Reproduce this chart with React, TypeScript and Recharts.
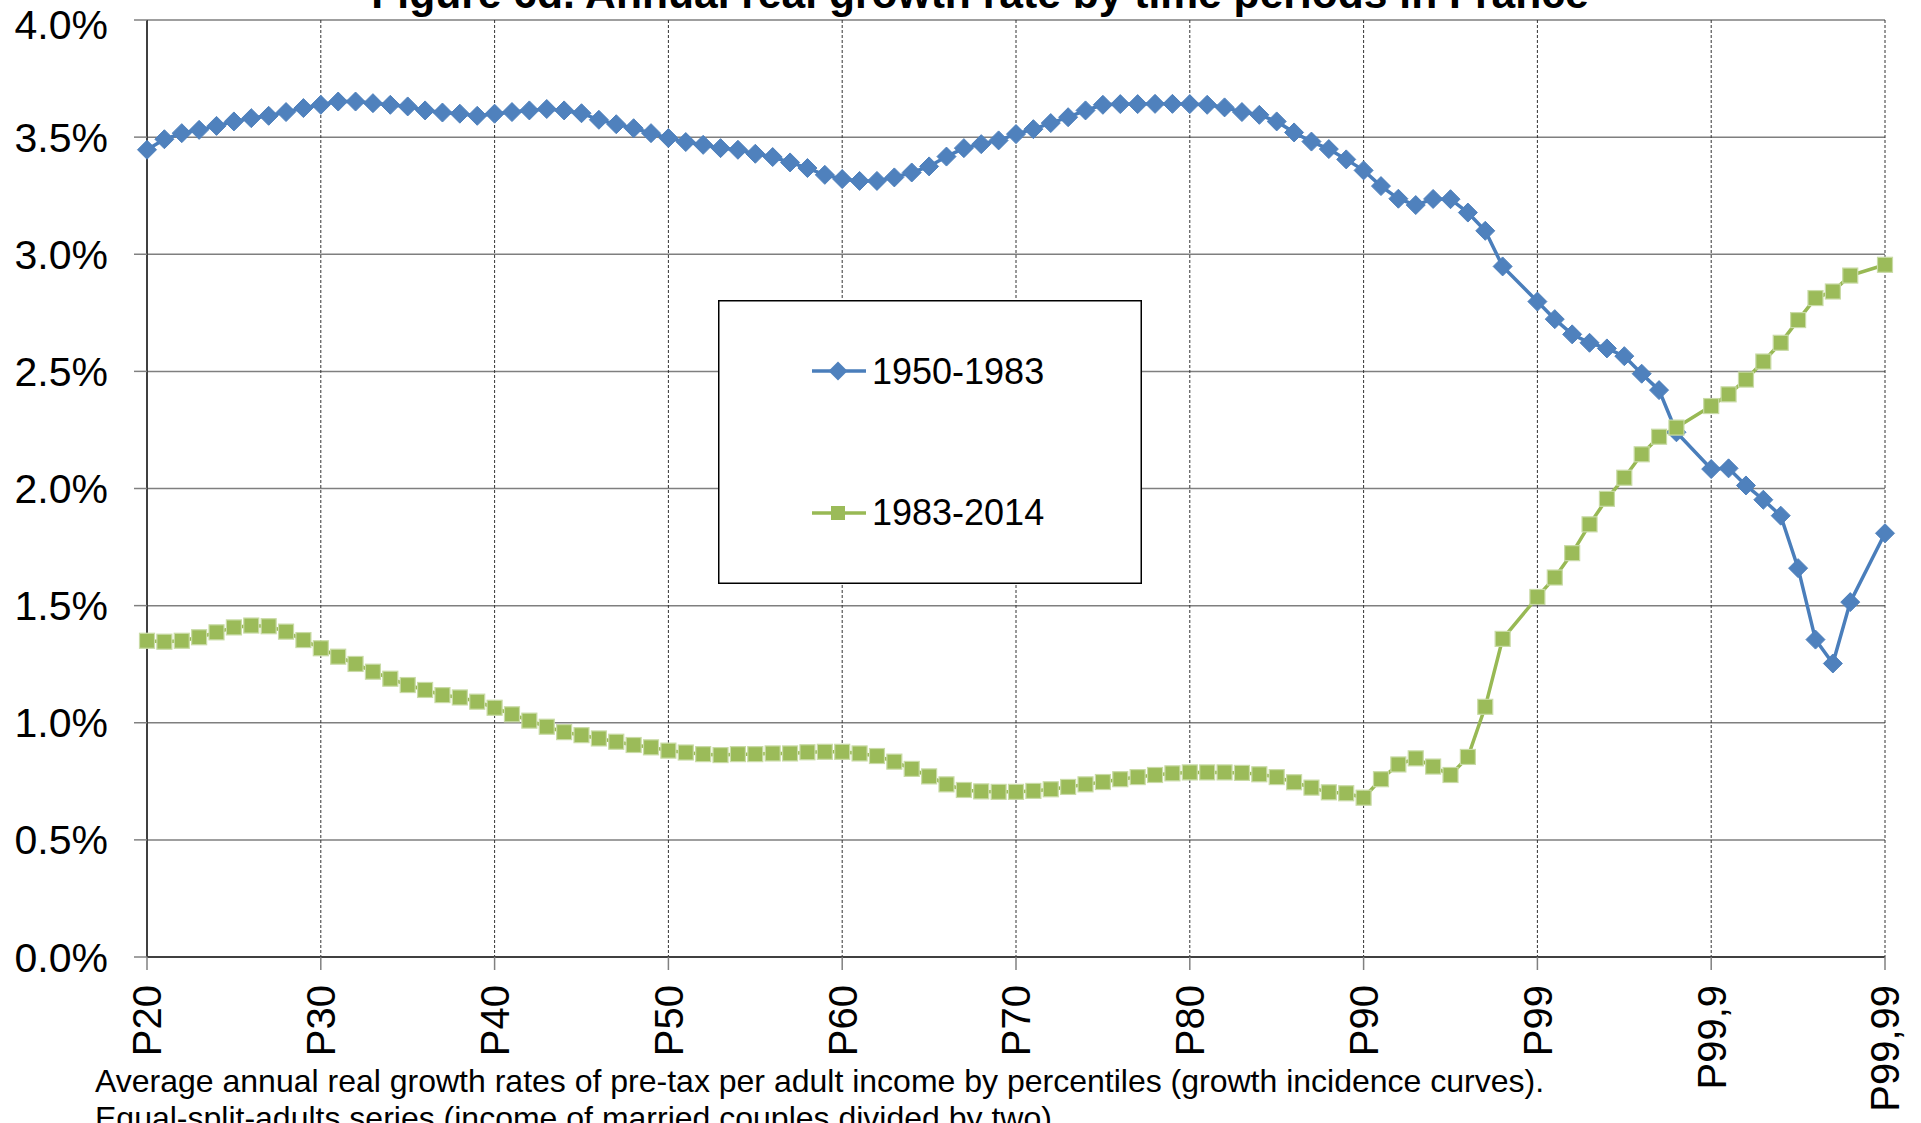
import { LineChart, Line, XAxis, YAxis, CartesianGrid, Legend } from 'recharts';

const FONT = '"Liberation Sans", Arial, sans-serif';
const BLUE_LINE = '#4A7EBB';
const BLUE_MARK = '#4F81BD';
const GREEN_LINE = '#98B954';
const GREEN_MARK = '#9BBB59';

// Percentile groups on the x axis (the top groups are finer slices of the top 1%)
const lowerPercentiles = Array.from({ length: 79 }, (_, i) => `P${20 + i}`); // P20 .. P98
const topPercentiles = [
  'P98,5', 'P99', 'P99,1', 'P99,2', 'P99,3', 'P99,4', 'P99,5', 'P99,6', 'P99,7', 'P99,8',
  'P99,85', 'P99,9', 'P99,91', 'P99,92', 'P99,93', 'P99,94', 'P99,95', 'P99,96', 'P99,97', 'P99,98',
  'P99,985', 'P99,99',
];
const categories = [...lowerPercentiles, ...topPercentiles];

const tickLabels = ['P20', 'P30', 'P40', 'P50', 'P60', 'P70', 'P80', 'P90', 'P99', 'P99,9', 'P99,99'];
const yTicks = [0, 0.5, 1, 1.5, 2, 2.5, 3, 3.5, 4];

// Average annual real growth rate (%), 1950-1983
const growth1950_1983 = [
  3.446, 3.491, 3.517, 3.531, 3.548, 3.567, 3.581, 3.591, 3.607, 3.624,
  3.638, 3.652, 3.652, 3.645, 3.638, 3.631, 3.614, 3.605, 3.600, 3.591,
  3.600, 3.607, 3.614, 3.620, 3.614, 3.602, 3.574, 3.555, 3.538, 3.517,
  3.496, 3.479, 3.467, 3.453, 3.446, 3.429, 3.415, 3.392, 3.368, 3.339,
  3.321, 3.313, 3.313, 3.328, 3.349, 3.375, 3.417, 3.453, 3.470, 3.486,
  3.513, 3.534, 3.560, 3.585, 3.614, 3.638, 3.641, 3.641, 3.642, 3.642,
  3.641, 3.638, 3.627, 3.607, 3.595, 3.567, 3.520, 3.481, 3.449, 3.405,
  3.358, 3.291, 3.237, 3.210, 3.236, 3.235, 3.178, 3.100, 2.948, null,
  2.798, 2.723, 2.658, 2.622, 2.598, 2.565, 2.490, 2.420, 2.240, null,
  2.083, 2.086, 2.013, 1.952, 1.884, 1.660, 1.355, 1.253, 1.515, null,
  1.809,
];

// Average annual real growth rate (%), 1983-2014
const growth1983_2014 = [
  1.350, 1.346, 1.350, 1.365, 1.386, 1.407, 1.415, 1.412, 1.389, 1.353,
  1.318, 1.282, 1.251, 1.218, 1.188, 1.161, 1.140, 1.118, 1.108, 1.090,
  1.064, 1.036, 1.009, 0.983, 0.960, 0.947, 0.933, 0.919, 0.905, 0.895,
  0.881, 0.873, 0.866, 0.862, 0.866, 0.866, 0.869, 0.869, 0.874, 0.876,
  0.876, 0.869, 0.858, 0.834, 0.803, 0.771, 0.737, 0.713, 0.707, 0.705,
  0.705, 0.709, 0.716, 0.726, 0.737, 0.747, 0.759, 0.768, 0.777, 0.784,
  0.788, 0.788, 0.788, 0.786, 0.780, 0.768, 0.746, 0.723, 0.703, 0.699,
  0.680, 0.759, 0.822, 0.848, 0.813, 0.777, 0.854, 1.068, 1.358, null,
  1.537, 1.620, 1.724, 1.847, 1.956, 2.046, 2.146, 2.221, 2.260, null,
  2.352, 2.402, 2.465, 2.542, 2.622, 2.719, 2.813, 2.841, 2.909, null,
  2.955,
];

const chartData = categories.map((name, i) => ({
  name,
  a: growth1950_1983[i],
  b: growth1983_2014[i],
}));

const DiamondDot = (props: any) => {
  const { cx, cy, index, value } = props;
  if (value == null || cy == null) return <g key={`d-${index}`} />;
  const r = 9.5;
  return (
    <polygon
      key={`d-${index}`}
      points={`${cx},${cy - r} ${cx + r},${cy} ${cx},${cy + r} ${cx - r},${cy}`}
      fill={BLUE_MARK}
      stroke={BLUE_MARK}
      strokeWidth={1}
    />
  );
};

const SquareDot = (props: any) => {
  const { cx, cy, index, value } = props;
  if (value == null || cy == null) return <g key={`s-${index}`} />;
  const h = 7.5;
  return (
    <rect
      key={`s-${index}`}
      x={cx - h}
      y={cy - h}
      width={h * 2}
      height={h * 2}
      fill={GREEN_MARK}
      stroke="#C9DBA6"
      strokeWidth={1.2}
    />
  );
};

const XTick = (props: any) => {
  const { x, y, payload } = props;
  return (
    <text
      transform={`translate(${x},${y + 13}) rotate(-90)`}
      textAnchor="end"
      dy="0.36em"
      fontSize={40}
      fontFamily={FONT}
      fill="#000"
    >
      {payload.value}
    </text>
  );
};

const LegendBox = () => (
  <svg width={424} height={284} style={{ display: 'block' }}>
    <rect x={0.75} y={0.75} width={422.5} height={282.5} fill="#fff" stroke="#000" strokeWidth={1.5} />
    <line x1={94} y1={71} x2={148} y2={71} stroke={BLUE_LINE} strokeWidth={3.5} />
    <polygon points="120,61.5 129.5,71 120,80.5 110.5,71" fill={BLUE_MARK} />
    <text x={154} y={84} fontSize={36} fontFamily={FONT} fill="#000">1950-1983</text>
    <line x1={94} y1={213} x2={148} y2={213} stroke={GREEN_LINE} strokeWidth={3.5} />
    <rect x={113} y={206} width={14} height={14} fill={GREEN_MARK} />
    <text x={154} y={225} fontSize={36} fontFamily={FONT} fill="#000">1983-2014</text>
  </svg>
);

export default function App() {
  return (
    <div style={{ position: 'absolute', left: 0, top: 0, width: 1921, height: 1123, overflow: 'hidden', background: '#fff' }}>
      <LineChart
        width={1921}
        height={1123}
        data={chartData}
        margin={{ top: 20, right: 36, bottom: 0, left: 0 }}
      >
        <CartesianGrid horizontal vertical={false} stroke="#7f7f7f" strokeWidth={1.5} />
        <CartesianGrid horizontal={false} vertical stroke="#333" strokeWidth={1} strokeDasharray="3 2" />
        <XAxis
          dataKey="name"
          ticks={tickLabels}
          interval={0}
          height={166}
          tick={<XTick />}
          tickSize={13}
          axisLine={{ stroke: '#404040', strokeWidth: 2 }}
          tickLine={{ stroke: '#808080', strokeWidth: 1.5 }}
        />
        <YAxis
          width={147}
          domain={[0, 4]}
          ticks={yTicks}
          tickFormatter={(v: number) => `${v.toFixed(1)}%`}
          tickSize={13}
          tickMargin={26}
          tick={{ fontSize: 41, fill: '#000', fontFamily: FONT }}
          axisLine={{ stroke: '#404040', strokeWidth: 2 }}
          tickLine={{ stroke: '#808080', strokeWidth: 1.5 }}
        />
        <Legend
          verticalAlign="middle"
          content={<LegendBox />}
          wrapperStyle={{ left: 718, top: 300, width: 424, height: 284 }}
        />
        <Line
          dataKey="a"
          name="1950-1983"
          stroke={BLUE_LINE}
          strokeWidth={3.5}
          dot={DiamondDot}
          connectNulls
          isAnimationActive={false}
        />
        <Line
          dataKey="b"
          name="1983-2014"
          stroke={GREEN_LINE}
          strokeWidth={3.5}
          dot={SquareDot}
          connectNulls
          isAnimationActive={false}
        />
      </LineChart>
      <svg
        width={1921}
        height={1123}
        style={{ position: 'absolute', left: 0, top: 0, pointerEvents: 'none' }}
      >
        <text x={980} y={8} textAnchor="middle" fontSize={42.6} fontWeight="bold" fontFamily={FONT} fill="#000">
          Figure 6d. Annual real growth rate by time periods in France
        </text>
        <text x={95} y={1092} fontSize={32} fontFamily={FONT} fill="#000">
          Average annual real growth rates of pre-tax per adult income by percentiles (growth incidence curves).
        </text>
        <text x={95} y={1129} fontSize={32} fontFamily={FONT} fill="#000">
          Equal-split-adults series (income of married couples divided by two).
        </text>
      </svg>
    </div>
  );
}
